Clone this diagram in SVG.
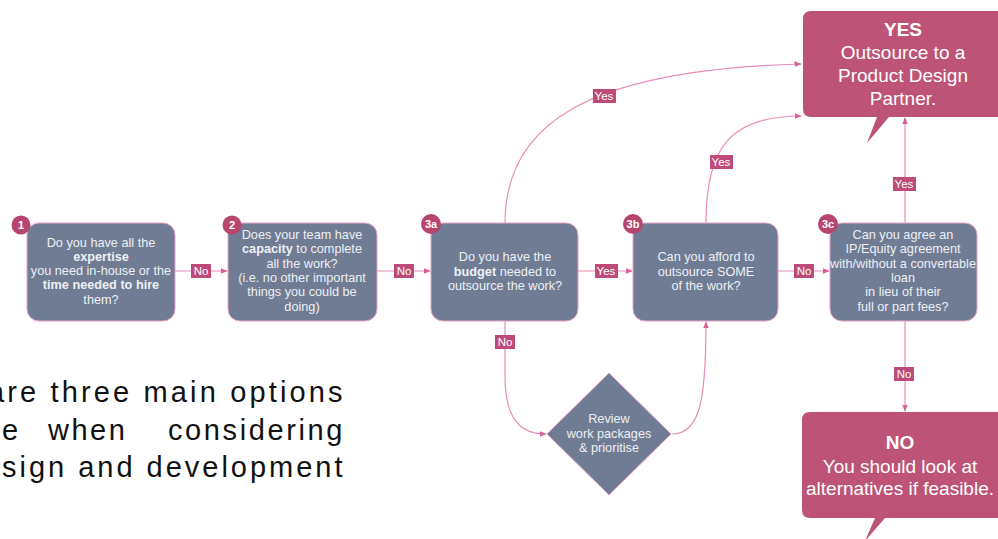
<svg xmlns="http://www.w3.org/2000/svg" width="998" height="539" viewBox="0 0 998 539">
  <defs>
    <marker id="arrow" viewBox="0 0 10 10" refX="9" refY="5" markerWidth="6" markerHeight="6" orient="auto">
      <path d="M0,1 L10,5 L0,9 Z" fill="#d9609a"/>
    </marker>
    <style>
      .box { fill: #6f7c94; stroke: #eaa2c6; stroke-width: 1; }
      .badge { fill: #b7466f; }
      .badge-t { font-family: "Liberation Sans", Arial, sans-serif; font-size: 11px; font-weight: bold; fill: #ffffff; text-anchor: middle; }
      .nt { font-family: "Liberation Sans", Arial, sans-serif; font-size: 12.7px; fill: #eef0f5; text-anchor: middle; }
      .b { font-weight: bold; }
      .conn { fill: none; stroke: #e98cbb; stroke-width: 1.2; }
      .lbl { fill: #bd4a78; }
      .lbl-t { font-family: "Liberation Sans", Arial, sans-serif; font-size: 11.5px; fill: #ffffff; text-anchor: middle; }
      .callout { fill: #bd5477; }
      .ct { font-family: "Liberation Sans", Arial, sans-serif; font-size: 19px; fill: #ffffff; text-anchor: middle; }
      .side { font-family: "Liberation Sans", Arial, sans-serif; font-size: 29px; fill: #111111; letter-spacing: 2.5px; }
    </style>
  </defs>

  <rect width="998" height="539" fill="#ffffff"/>

  <!-- intro paragraph (clipped at the left edge) -->
  <g id="intro">
    <text class="side" x="-12" y="402" textLength="357" lengthAdjust="spacing">are three main options</text>
    <text class="side" x="2" y="440">e</text>
    <text class="side" x="48" y="440">when</text>
    <text class="side" x="168" y="440" textLength="177" lengthAdjust="spacing">considering</text>
    <text class="side" x="2" y="477" textLength="343" lengthAdjust="spacing">sign and development</text>
  </g>

  <!-- connectors -->
  <g id="connectors">
    <path class="conn" d="M175,271 L227,271" marker-end="url(#arrow)"/>
    <path class="conn" d="M377,271 L430,271" marker-end="url(#arrow)"/>
    <path class="conn" d="M578,271 L632,271" marker-end="url(#arrow)"/>
    <path class="conn" d="M778,271 L829,271" marker-end="url(#arrow)"/>
    <path class="conn" d="M505,223 C505,125 585,70 801,64" marker-end="url(#arrow)"/>
    <path class="conn" d="M706,223 C706,150 728,116 801,116" marker-end="url(#arrow)"/>
    <path class="conn" d="M905,223 L905,118" marker-end="url(#arrow)"/>
    <path class="conn" d="M905,321 L905,411" marker-end="url(#arrow)"/>
    <path class="conn" d="M505,321 L505,375 C505,412 515,434 546,434" marker-end="url(#arrow)"/>
    <path class="conn" d="M672,434 C700,434 706,400 706,322" marker-end="url(#arrow)"/>

    <rect class="lbl" x="191" y="264" width="20" height="14"/>
    <text class="lbl-t" x="201" y="275">No</text>
    <rect class="lbl" x="394" y="264" width="20" height="14"/>
    <text class="lbl-t" x="404" y="275">No</text>
    <rect class="lbl" x="595" y="264" width="23" height="14"/>
    <text class="lbl-t" x="606" y="275">Yes</text>
    <rect class="lbl" x="794" y="264" width="20" height="14"/>
    <text class="lbl-t" x="804" y="275">No</text>
    <rect class="lbl" x="593" y="89" width="23" height="14"/>
    <text class="lbl-t" x="604" y="100">Yes</text>
    <rect class="lbl" x="710" y="155" width="23" height="14"/>
    <text class="lbl-t" x="721" y="166">Yes</text>
    <rect class="lbl" x="893" y="177" width="23" height="14"/>
    <text class="lbl-t" x="904" y="188">Yes</text>
    <rect class="lbl" x="894" y="367" width="20" height="14"/>
    <text class="lbl-t" x="904" y="378">No</text>
    <rect class="lbl" x="495" y="335" width="20" height="14"/>
    <text class="lbl-t" x="505" y="346">No</text>
  </g>

  <!-- step 1 -->
  <g id="node-1">
    <rect class="box" x="27" y="223" width="148" height="98" rx="12"/>
    <circle class="badge" cx="21" cy="225" r="9.5"/>
    <text class="badge-t" x="21" y="229">1</text>
    <text class="nt" x="101" y="247">Do you have all the</text>
    <text class="nt b" x="101" y="261">expertise</text>
    <text class="nt" x="101" y="275">you need in-house or the</text>
    <text class="nt b" x="101" y="289">time needed to hire</text>
    <text class="nt" x="101" y="304">them?</text>
  </g>

  <!-- step 2 -->
  <g id="node-2">
    <rect class="box" x="228" y="223" width="149" height="98" rx="12"/>
    <circle class="badge" cx="232" cy="225" r="9.5"/>
    <text class="badge-t" x="232" y="229">2</text>
    <text class="nt" x="302" y="239">Does your team have</text>
    <text class="nt" x="302" y="253"><tspan font-weight="bold">capacity</tspan> to complete</text>
    <text class="nt" x="302" y="268">all the work?</text>
    <text class="nt" x="302" y="282">(i.e. no other important</text>
    <text class="nt" x="302" y="296">things you could be</text>
    <text class="nt" x="302" y="311">doing)</text>
  </g>

  <!-- step 3a -->
  <g id="node-3a">
    <rect class="box" x="431" y="223" width="147" height="98" rx="12"/>
    <circle class="badge" cx="431" cy="224" r="10"/>
    <text class="badge-t" x="431" y="228">3a</text>
    <text class="nt" x="505" y="261">Do you have the</text>
    <text class="nt" x="505" y="276"><tspan font-weight="bold">budget</tspan> needed to</text>
    <text class="nt" x="505" y="290">outsource the work?</text>
  </g>

  <!-- step 3b -->
  <g id="node-3b">
    <rect class="box" x="633" y="223" width="145" height="98" rx="12"/>
    <circle class="badge" cx="633" cy="224" r="10"/>
    <text class="badge-t" x="633" y="228">3b</text>
    <text class="nt" x="706" y="261">Can you afford to</text>
    <text class="nt" x="706" y="276">outsource SOME</text>
    <text class="nt" x="706" y="290">of the work?</text>
  </g>

  <!-- step 3c -->
  <g id="node-3c">
    <rect class="box" x="830" y="223" width="147" height="98" rx="12"/>
    <circle class="badge" cx="828" cy="224" r="10"/>
    <text class="badge-t" x="828" y="228">3c</text>
    <text class="nt" x="903" y="239">Can you agree an</text>
    <text class="nt" x="903" y="253">IP/Equity agreement</text>
    <text class="nt" x="903" y="268">with/without a convertable</text>
    <text class="nt" x="903" y="282">loan</text>
    <text class="nt" x="903" y="296">in lieu of their</text>
    <text class="nt" x="903" y="311">full or part fees?</text>
  </g>

  <!-- review diamond -->
  <g id="node-review">
    <path class="box" d="M547,434 L609,373 L671,434 L609,495 Z" stroke-linejoin="round"/>
    <text class="nt" x="609" y="423">Review</text>
    <text class="nt" x="609" y="438">work packages</text>
    <text class="nt" x="609" y="452">&amp; prioritise</text>
  </g>

  <!-- outcome: yes -->
  <g id="outcome-yes">
    <path class="callout" d="M811,11 H1010 V117 H889 L867,143 L877,117 H811 Q803,117 803,109 V19 Q803,11 811,11 Z"/>
    <text class="ct b" x="903" y="36">YES</text>
    <text class="ct" x="903" y="59">Outsource to a</text>
    <text class="ct" x="903" y="82">Product Design</text>
    <text class="ct" x="903" y="105">Partner.</text>
  </g>

  <!-- outcome: no -->
  <g id="outcome-no">
    <path class="callout" d="M810,412 H1010 V518 H885 L865,541 L875,518 H810 Q802,518 802,510 V420 Q802,412 810,412 Z"/>
    <text class="ct b" x="900" y="449">NO</text>
    <text class="ct" x="900" y="473">You should look at</text>
    <text class="ct" x="900" y="495">alternatives if feasible.</text>
  </g>
</svg>
